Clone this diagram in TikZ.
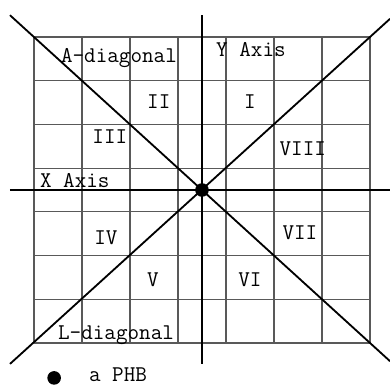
\documentclass[tikz,border=0pt]{standalone}
\usepackage{fontspec}
\usetikzlibrary{positioning}

\begin{document}
\begin{tikzpicture}[
    x=1.2cm, y=1.0925cm,
    gridline/.style={draw=black!65, line width=0.8pt},
    axisline/.style={draw=black, line width=1.3pt},
    lbl/.style={font=\ttfamily\fontsize{16}{18}\selectfont, inner sep=0pt, text height=1.6ex, text depth=0.3ex},
    dot/.style={circle, fill=black, inner sep=0pt, minimum size=0.34cm}
]
\useasboundingbox (-4.208,-4.462) rectangle (3.917,4.348);

% cells
\foreach \k in {-3.5,-2.5,...,3.5} {
    \draw[gridline] (\k,-3.5) -- (\k,3.5);
    \draw[gridline] (-3.5,\k) -- (3.5,\k);
}

% axes and diagonals
\coordinate (xl) at (-4,0);
\coordinate (xr) at (3.92,0);
\coordinate (yt) at (0,4);
\coordinate (yb) at (0,-3.98);
\coordinate (atl) at (-4,4);
\coordinate (abr) at (3.92,-3.92);
\coordinate (lbl) at (-4,-3.98);
\coordinate (ltr) at (3.92,3.92);

\draw[axisline] (xl) -- (xr);
\draw[axisline] (yt) -- (yb);
\draw[axisline] (atl) -- (abr);
\draw[axisline] (lbl) -- (ltr);

\node[dot] (phb) at (0,0) {};

% labels
\node[lbl] (adiag) at (-1.73,3.0) {A-diagonal};
\node[lbl] (yaxis) at (1.02,3.15) {Y Axis};
\node[lbl] (xaxis) at (-2.65,0.15) {X Axis};
\node[lbl] (ldiag) at (-1.79,-3.32) {L-diagonal};
\node[lbl] (s1) at (1.0,1.95) {I};
\node[lbl] (s2) at (-0.9,1.95) {II};
\node[lbl] (s3) at (-1.92,1.15) {III};
\node[lbl] (s4) at (-2.0,-1.16) {IV};
\node[lbl] (s5) at (-1.02,-2.12) {V};
\node[lbl] (s6) at (1.0,-2.12) {VI};
\node[lbl] (s7) at (2.04,-1.04) {VII};
\node[lbl] (s8) at (2.1,0.88) {VIII};

% legend
\node[dot] (keydot) at (-3.08,-4.3) {};
\node[lbl] (keytxt) at (-1.75,-4.29) {a PHB};
\end{tikzpicture}
\end{document}
